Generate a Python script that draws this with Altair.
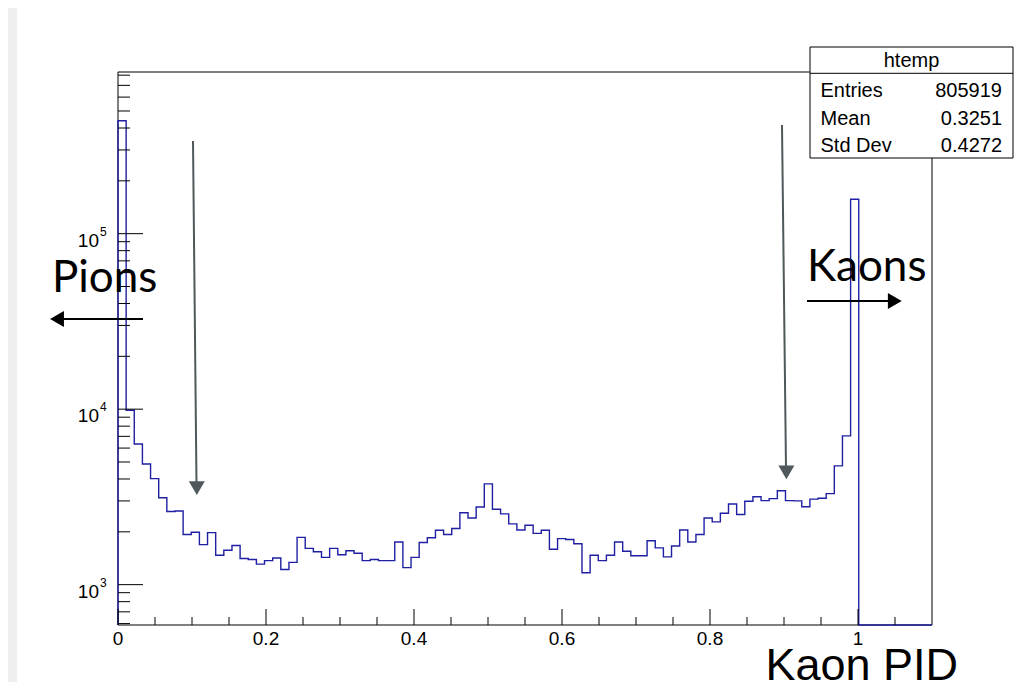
import altair as alt
import pandas as pd

# ---------------- data ----------------
BIN_WIDTH = 0.011  # 100 bins over [0, 1.1]
bin_counts = [
    440000, 9850, 6330, 4870, 4020, 3130, 2610, 2630, 1930, 1990,
    1690, 1980, 1470, 1570, 1670, 1410, 1390, 1310, 1370, 1420,
    1220, 1340, 1860, 1610, 1540, 1430, 1610, 1480, 1560, 1510,
    1370, 1390, 1370, 1370, 1750, 1250, 1430, 1740, 1850, 2040,
    1930, 2090, 2570, 2400, 2770, 3750, 2690, 2530, 2220, 2050,
    2180, 1960, 2040, 1590, 1830, 1810, 1710, 1170, 1470, 1370,
    1470, 1750, 1550, 1460, 1460, 1780, 1620, 1440, 1660, 2050,
    1750, 1930, 2400, 2280, 2550, 2880, 2510, 2990, 3170, 3010,
    3090, 3430, 3010, 3000, 2780, 3070, 3110, 3300, 4750, 7040,
    157000, 0, 0, 0, 0, 0, 0, 0, 0, 0,
]
x_major = [0, 0.2, 0.4, 0.6, 0.8, 1.0]
x_major_labels = ["0", "0.2", "0.4", "0.6", "0.8", "1"]
x_minor = [0.05, 0.1, 0.15, 0.25, 0.3, 0.35, 0.45, 0.5, 0.55, 0.65, 0.7,
           0.75, 0.85, 0.9, 0.95, 1.05]
y_major = [1000, 10000, 100000]
y_major_base = ["10", "10", "10"]
y_major_exp = ["3", "4", "5"]
y_minor = [600, 700, 800, 900,
           2000, 3000, 4000, 5000, 6000, 7000, 8000, 9000,
           20000, 30000, 40000, 50000, 60000, 70000, 80000, 90000,
           200000, 300000, 400000, 500000, 600000, 700000, 800000]
stat_title = "htemp"
stat_names = ["Entries", "Mean", "Std Dev"]
stat_values = ["805919", "0.3251", "0.4272"]
x_title = "Kaon PID"
label_left = "Pions"
label_right = "Kaons"

X_MIN, X_MAX = 0.0, 1.1
Y_MIN, Y_MAX = 589, 834000

# ---------------- layout ----------------
W, H = 814, 553
BLUE = "#1f1fa3"
GREY = "#4f585a"
FONT = "Liberation Sans"
ANN_FONT = "Lato"

x_scale = alt.Scale(domain=[X_MIN, X_MAX], nice=False, zero=False)
y_scale = alt.Scale(type="log", domain=[Y_MIN, Y_MAX], nice=False, zero=False)

# histogram outline as step line
xs = [0.0]
ys = [Y_MIN]
for i, c in enumerate(bin_counts):
    xs.append(round(i * BIN_WIDTH, 6))
    ys.append(max(c, Y_MIN))
xs.append(X_MAX)
ys.append(max(bin_counts[-1], Y_MIN))
hist_df = pd.DataFrame({"x": xs, "y": ys, "o": list(range(len(xs)))})

one = pd.DataFrame({"a": [0]})

strip = alt.Chart(one).mark_rect(color="#efefef").encode(
    x=alt.value(-110), x2=alt.value(-101), y=alt.value(-64), y2=alt.value(H + 57))

frame = alt.Chart(one).mark_rect(fill="white", stroke="black", strokeWidth=1).encode(
    x=alt.value(0), x2=alt.value(W), y=alt.value(0), y2=alt.value(H))

hist = alt.Chart(hist_df).mark_line(
    interpolate="step-after", color=BLUE, strokeWidth=1.4
).encode(
    x=alt.X("x:Q", scale=x_scale, axis=None),
    y=alt.Y("y:Q", scale=y_scale, axis=None),
    order=alt.Order("o:Q"),
)

xt_major = alt.Chart(pd.DataFrame({"v": x_major})).mark_rule(color="black", strokeWidth=1).encode(
    x=alt.X("v:Q", scale=x_scale, axis=None), y=alt.value(H), y2=alt.value(H - 16))
xt_minor = alt.Chart(pd.DataFrame({"v": x_minor})).mark_rule(color="black", strokeWidth=1).encode(
    x=alt.X("v:Q", scale=x_scale, axis=None), y=alt.value(H), y2=alt.value(H - 8))
xlab = alt.Chart(pd.DataFrame({"v": x_major, "t": x_major_labels})).mark_text(
    align="center", baseline="top", fontSize=19, font=FONT, color="black"
).encode(x=alt.X("v:Q", scale=x_scale, axis=None), y=alt.value(H + 5), text="t:N")

yt_major = alt.Chart(pd.DataFrame({"v": y_major})).mark_rule(color="black", strokeWidth=1).encode(
    y=alt.Y("v:Q", scale=y_scale, axis=None), x=alt.value(0), x2=alt.value(25))
yt_minor = alt.Chart(pd.DataFrame({"v": y_minor})).mark_rule(color="black", strokeWidth=1).encode(
    y=alt.Y("v:Q", scale=y_scale, axis=None), x=alt.value(0), x2=alt.value(12))

ylab_df = pd.DataFrame({"v": y_major, "b": y_major_base, "e": y_major_exp})
ylab_base = alt.Chart(ylab_df).mark_text(
    align="right", baseline="alphabetic", dy=13, fontSize=19, font=FONT, color="black"
).encode(y=alt.Y("v:Q", scale=y_scale, axis=None), x=alt.value(-19), text="b:N")
ylab_exp = alt.Chart(ylab_df).mark_text(
    align="left", baseline="alphabetic", dy=2, fontSize=12, font=FONT, color="black"
).encode(y=alt.Y("v:Q", scale=y_scale, axis=None), x=alt.value(-18), text="e:N")

# grey vertical arrows
g1_line = alt.Chart(one).mark_rule(color=GREY, strokeWidth=2).encode(
    x=alt.value(75), x2=alt.value(78.5), y=alt.value(69), y2=alt.value(412))
g1_head = alt.Chart(one).mark_point(shape="triangle-down", filled=True, size=256,
                                    color=GREY, opacity=1).encode(
    x=alt.value(78.8), y=alt.value(416.1))
g2_line = alt.Chart(one).mark_rule(color=GREY, strokeWidth=2).encode(
    x=alt.value(664), x2=alt.value(668), y=alt.value(53), y2=alt.value(396))
g2_head = alt.Chart(one).mark_point(shape="triangle-down", filled=True, size=256,
                                    color=GREY, opacity=1).encode(
    x=alt.value(668.4), y=alt.value(400.4))

# black horizontal arrows
p_line = alt.Chart(one).mark_rule(color="black", strokeWidth=2).encode(
    x=alt.value(25), x2=alt.value(-58), y=alt.value(247))
p_head = alt.Chart(one).mark_point(shape="triangle-left", filled=True, size=256,
                                   color="black", opacity=1).encode(
    x=alt.value(-61), y=alt.value(247))
k_line = alt.Chart(one).mark_rule(color="black", strokeWidth=2).encode(
    x=alt.value(689), x2=alt.value(772), y=alt.value(229))
k_head = alt.Chart(one).mark_point(shape="triangle-right", filled=True, size=256,
                                   color="black", opacity=1).encode(
    x=alt.value(776.8), y=alt.value(229))

pions = alt.Chart(one).mark_text(align="left", baseline="alphabetic", fontSize=44,
                                 font=ANN_FONT, color="black").encode(
    x=alt.value(-66), y=alt.value(220), text=alt.value(label_left))
kaons = alt.Chart(one).mark_text(align="left", baseline="alphabetic", fontSize=44,
                                 font=ANN_FONT, color="black").encode(
    x=alt.value(689), y=alt.value(209), text=alt.value(label_right))

xtitle = alt.Chart(one).mark_text(align="right", baseline="alphabetic", fontSize=45,
                                  font=FONT, color="black").encode(
    x=alt.value(840), y=alt.value(608), text=alt.value(x_title))

# statistics box
sbox = alt.Chart(one).mark_rect(fill="white", stroke="black", strokeWidth=1).encode(
    x=alt.value(692), x2=alt.value(895), y=alt.value(-25), y2=alt.value(86))
sline = alt.Chart(one).mark_rule(color="black", strokeWidth=1).encode(
    x=alt.value(692), x2=alt.value(895), y=alt.value(1.3))
stitle = alt.Chart(one).mark_text(align="center", baseline="alphabetic", fontSize=20,
                                  font=FONT, color="black").encode(
    x=alt.value(793.5), y=alt.value(-5.5), text=alt.value(stat_title))
stat_layers = []
for i, (n, v) in enumerate(zip(stat_names, stat_values)):
    row = pd.DataFrame({"n": [n], "v": [v]})
    yb = 25.3 + 27.2 * i
    stat_layers.append(alt.Chart(row).mark_text(
        align="left", baseline="alphabetic", fontSize=20, font=FONT, color="black"
    ).encode(x=alt.value(702.5), y=alt.value(yb), text="n:N"))
    stat_layers.append(alt.Chart(row).mark_text(
        align="right", baseline="alphabetic", fontSize=20, font=FONT, color="black"
    ).encode(x=alt.value(884), y=alt.value(yb), text="v:N"))

chart = alt.layer(
    strip, frame, hist, xt_major, xt_minor, xlab, yt_major, yt_minor,
    ylab_base, ylab_exp,
    g1_line, g1_head, g2_line, g2_head,
    p_line, p_head, k_line, k_head, pions, kaons, xtitle,
    sbox, sline, stitle, *stat_layers,
).properties(
    width=W, height=H,
    padding={"left": 110, "top": 64, "right": 89, "bottom": 57},
    autosize=alt.AutoSizeParams(type="none"),
    background="white",
).configure_view(stroke=None)

chart.save("out.html", embed_options={"renderer": "svg", "actions": False})
